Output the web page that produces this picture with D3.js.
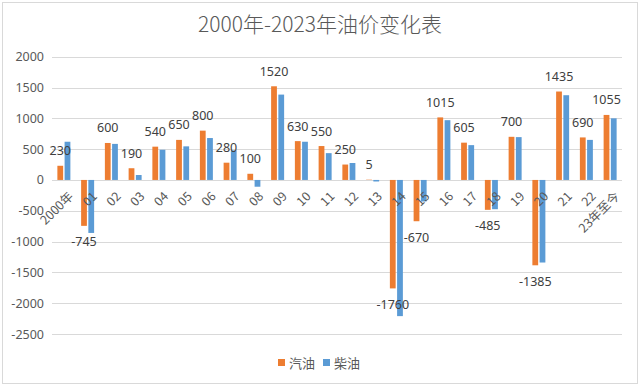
<!DOCTYPE html>
<html>
<head>
<meta charset="utf-8">
<script src="https://cdn.jsdelivr.net/npm/d3@7"></script>
<style>
  body { margin: 0; background: #fff; }
  svg { display: block; font-family: "Noto Sans CJK SC", "Noto Sans", sans-serif; }
</style>
</head>
<body>
<div id="chart"></div>
<script>
// categories along the x axis
var categories = ['2000年', '01', '02', '03', '04', '05', '06', '07', '08', '09', '10', '11',
  '12', '13', '14', '15', '16', '17', '18', '19', '20', '21', '22', '23年至今'];

// 汽油 (gasoline) yearly change, also used as data labels
var gasoline = [230, -745, 600, 190, 540, 650, 800, 280, 100, 1520, 630, 550,
  250, 5, -1760, -670, 1015, 605, -485, 700, -1385, 1435, 690, 1055];

// 柴油 (diesel) yearly change
var diesel = [620, -860, 585, 80, 490, 545, 680, 480, -110, 1385, 620, 435,
  275, -25, -2210, -350, 970, 565, -475, 695, -1340, 1375, 650, 1000];

var seriesNames = ['汽油', '柴油'];
var yTicks = [2000, 1500, 1000, 500, 0, -500, -1000, -1500, -2000, -2500];

var W = 640, H = 386;
var colors = { '汽油': '#ED7D31', '柴油': '#5B9BD5' };

var svg = d3.select('#chart').append('svg')
  .attr('width', W)
  .attr('height', H);

// outer chart border
svg.append('rect')
  .attr('x', 2.5).attr('y', 2.5)
  .attr('width', 635).attr('height', 381)
  .attr('fill', '#fff')
  .attr('stroke', '#d9d9d9');

// title
svg.append('text')
  .attr('x', 320).attr('y', 32)
  .attr('text-anchor', 'middle')
  .attr('font-size', 21)
  .attr('font-weight', 300)
  .attr('fill', '#595959')
  .text('2000年-2023年油价变化表');

var x0 = d3.scaleBand().domain(categories).range([52, 622]);
var y = d3.scaleLinear().domain([-2500, 2000]).range([334, 56.7]);

// gridlines
svg.append('g').selectAll('line')
  .data(yTicks)
  .enter().append('line')
  .attr('x1', 52).attr('x2', 622)
  .attr('y1', function(d) { return Math.round(y(d)) + 0.5; })
  .attr('y2', function(d) { return Math.round(y(d)) + 0.5; })
  .attr('stroke', '#d9d9d9');

// y axis labels
var yAxis = d3.axisLeft(y).tickValues(yTicks).tickSize(0).tickPadding(0)
  .tickFormat(function(d) { return String(d); });
var yg = svg.append('g')
  .attr('transform', 'translate(44,0)')
  .call(yAxis);
yg.select('.domain').remove();
yg.selectAll('text')
  .attr('font-size', 12.5)
  .attr('font-family', '"Noto Sans", sans-serif')
  .attr('fill', '#595959');

// bars
var rows = categories.map(function(c, i) {
  return { cat: c, values: [gasoline[i], diesel[i]] };
});

var barGroups = svg.append('g').selectAll('g.cluster')
  .data(rows)
  .enter().append('g')
  .attr('class', 'cluster')
  .attr('transform', function(d) {
    return 'translate(' + (x0(d.cat) + x0.bandwidth() / 2) + ',0)';
  });

var x1 = d3.scaleBand().domain(seriesNames).range([-6.5, 6.5]).paddingInner(0.2);

barGroups.selectAll('rect')
  .data(function(d) {
    return seriesNames.map(function(s, j) { return { s: s, v: d.values[j] }; });
  })
  .enter().append('rect')
  .attr('x', function(d) { return x1(d.s); })
  .attr('width', x1.bandwidth())
  .attr('y', function(d) { return y(Math.max(0, d.v)); })
  .attr('height', function(d) { return Math.abs(y(d.v) - y(0)); })
  .attr('fill', function(d) { return colors[d.s]; });

// x axis category labels, rotated
svg.append('g').selectAll('text')
  .data(categories)
  .enter().append('text')
  .attr('transform', function(d) {
    return 'translate(' + (x0(d) + x0.bandwidth() / 2 + 4) + ',' + (y(0) + 11) + ') rotate(-45)';
  })
  .attr('text-anchor', 'end')
  .attr('dy', '0.7em')
  .attr('font-size', 12.5)
  .attr('fill', '#595959')
  .text(function(d) { return d; });

// data labels for 汽油
barGroups.append('text')
  .attr('x', x1('汽油') + x1.bandwidth() / 2)
  .attr('y', function(d) {
    var v = d.values[0];
    return v >= 0 ? y(v) - 10.5 : y(v) + 20.5;
  })
  .attr('text-anchor', 'middle')
  .attr('font-size', 12.5)
  .attr('font-family', '"Noto Sans", sans-serif')
  .attr('fill', '#404040')
  .text(function(d) { return d.values[0]; });

// legend
var legend = svg.append('g').selectAll('g')
  .data(seriesNames)
  .enter().append('g')
  .attr('transform', function(d, i) { return 'translate(' + (278 + i * 45) + ',0)'; });

legend.append('rect')
  .attr('x', 0).attr('y', 359)
  .attr('width', 7).attr('height', 7)
  .attr('fill', function(d) { return colors[d]; });

legend.append('text')
  .attr('x', 11).attr('y', 367.5)
  .attr('font-size', 13)
  .attr('fill', '#595959')
  .text(function(d) { return d; });
</script>
</body>
</html>
